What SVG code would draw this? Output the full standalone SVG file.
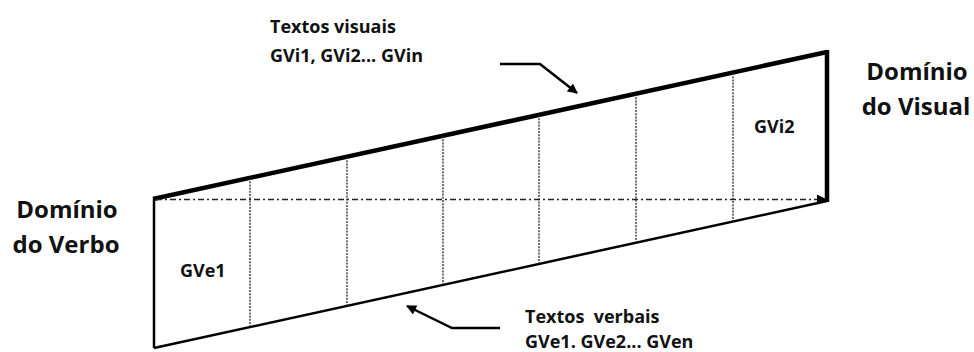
<svg xmlns="http://www.w3.org/2000/svg" width="974" height="352" viewBox="0 0 974 352">
  <style>
    .lbl { font-family: "Open Sans", "Liberation Sans", sans-serif; font-weight: bold; fill: #111; }
    .big { font-size: 24px; }
    .mid { font-size: 18px; }
    .grid { stroke: #222; stroke-width: 1.3; stroke-dasharray: 2 1.2; fill: none; }
    .axis { stroke: #222; stroke-width: 1.4; stroke-dasharray: 6 3 2 3; fill: none; }
    .edge { stroke: #000; fill: none; stroke-linejoin: miter; }
  </style>
  <defs>
    <marker id="head-s" viewBox="0 0 10 10" refX="9" refY="5" markerWidth="12" markerHeight="10" markerUnits="userSpaceOnUse" orient="auto">
      <path d="M0,0 L10,5 L0,10 z" fill="#000"/>
    </marker>
  </defs>

  <!-- slanted band between the two domains -->
  <g id="band">
    <line class="edge" x1="154" y1="199" x2="154" y2="348" stroke-width="2.5"/>
    <line class="edge" x1="154" y1="348" x2="827" y2="201" stroke-width="2.5"/>
    <line class="edge" x1="153" y1="199" x2="827" y2="52" stroke-width="4.5"/>
    <line class="edge" x1="827" y1="50" x2="827" y2="202" stroke-width="4.5"/>
    <!-- cell dividers -->
    <line class="grid" x1="250" y1="178" x2="250" y2="327"/>
    <line class="grid" x1="347" y1="157" x2="347" y2="306"/>
    <line class="grid" x1="443" y1="136" x2="443" y2="285"/>
    <line class="grid" x1="539" y1="115" x2="539" y2="264"/>
    <line class="grid" x1="636" y1="94" x2="636" y2="243"/>
    <line class="grid" x1="733" y1="73" x2="733" y2="222"/>
    <!-- axis -->
    <line class="axis" x1="156" y1="199.5" x2="826" y2="199.5" marker-end="url(#head-s)"/>
  </g>

  <g id="verbo">
    <text class="lbl big" x="67" y="218" text-anchor="middle">Domínio</text>
    <text class="lbl big" x="66" y="253" text-anchor="middle">do Verbo</text>
  </g>

  <g id="visual">
    <text class="lbl big" x="917" y="80" text-anchor="middle">Domínio</text>
    <text class="lbl big" x="916" y="115" text-anchor="middle">do Visual</text>
  </g>

  <g id="gve1">
    <text class="lbl mid" x="180" y="277">GVe1</text>
  </g>
  <g id="gvi2">
    <text class="lbl mid" x="754" y="133">GVi2</text>
  </g>

  <g id="visuais">
    <text class="lbl mid" x="270" y="33">Textos visuais</text>
    <text class="lbl mid" x="270" y="62">GVi1, GVi2... GVin</text>
  </g>

  <g id="verbais">
    <text class="lbl mid" x="525" y="323" xml:space="preserve">Textos  verbais</text>
    <text class="lbl mid" x="525" y="348">GVe1. GVe2... GVen</text>
  </g>

  <g id="connectors">
    <polyline class="edge" points="500,64 540,64 577,93" stroke-width="2.5" marker-end="url(#head-s)"/>
    <polyline class="edge" points="500,328 452,328 407,306" stroke-width="2.5" marker-end="url(#head-s)"/>
  </g>
</svg>
